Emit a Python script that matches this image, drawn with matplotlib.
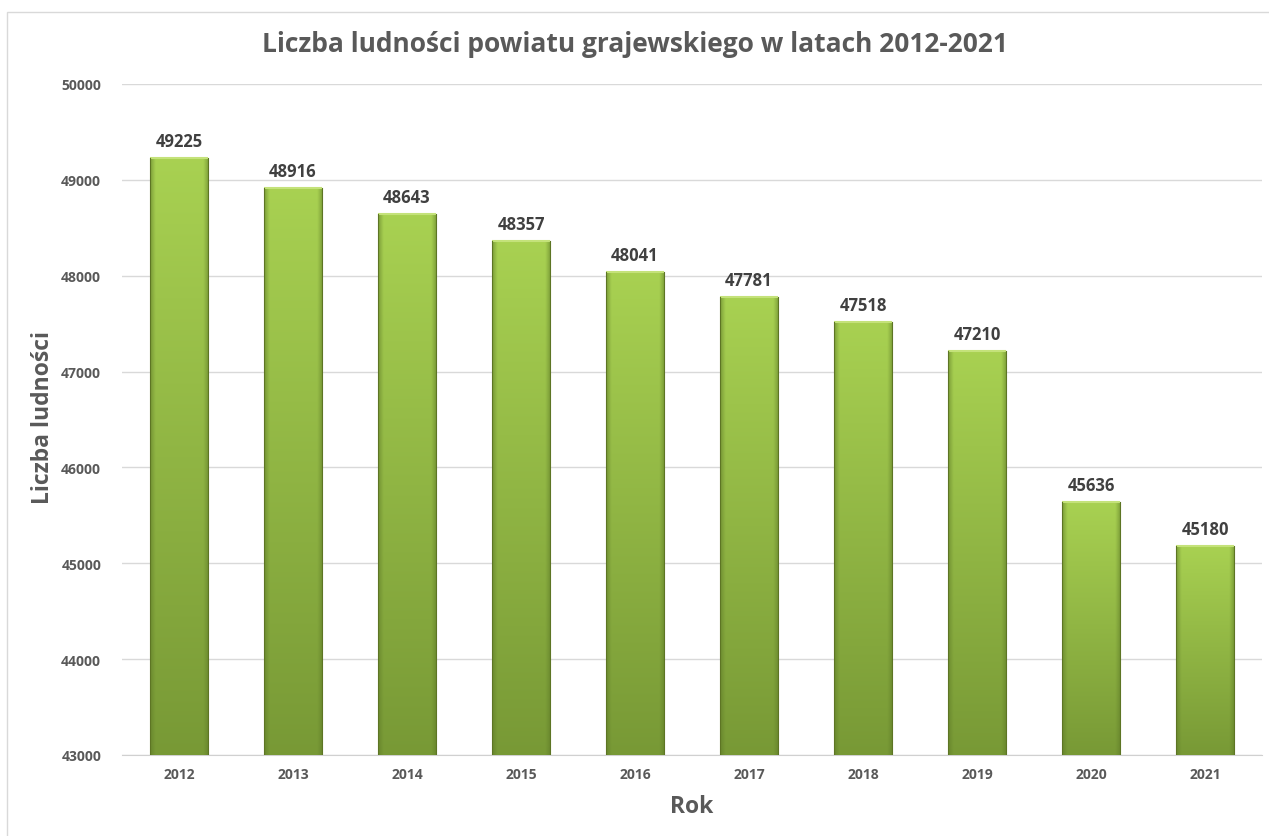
import matplotlib
matplotlib.use("Agg")
import matplotlib.pyplot as plt
import numpy as np

years = ["2012", "2013", "2014", "2015", "2016", "2017", "2018", "2019", "2020", "2021"]
population = [49225, 48916, 48643, 48357, 48041, 47781, 47518, 47210, 45636, 45180]
y_ticks = [43000, 44000, 45000, 46000, 47000, 48000, 49000, 50000]

title = "Liczba ludności powiatu grajewskiego w latach 2012-2021"
ylabel = "Liczba ludności"
xlabel = "Rok"

FONT = ["Open Sans", "DejaVu Sans"]
plt.rcParams["font.family"] = FONT

W, H = 1269, 837
fig = plt.figure(figsize=(W / 100, H / 100), dpi=100)
ax = fig.add_axes([122 / W, (H - 756) / H, (1262 - 122) / W, (756 - 85) / H])

x = np.arange(len(years))
bars = ax.bar(x, population, width=0.51, color="none", edgecolor="none", zorder=3)

ax.set_ylim(43000, 50000)
ax.set_xlim(-0.5, len(years) - 0.5)

# vertical gradient (light top -> darker bottom) with darker side edges
ny, nx = 256, 64
vert = np.linspace(1, 0, ny)[:, None]
xs = np.linspace(-1, 1, nx)[None, :]
edge = np.clip((np.abs(xs) - 0.82) / 0.18, 0, 1)
top = np.array([0.66, 0.82, 0.32])
bot = np.array([0.47, 0.60, 0.21])
dark = np.array([0.36, 0.47, 0.15])
base = bot[None, None, :] + (top - bot)[None, None, :] * vert[:, :, None]
img = base * (1 - 0.55 * edge[:, :, None]) + dark[None, None, :] * 0.55 * edge[:, :, None]
img = np.broadcast_to(img, (ny, nx, 3)).copy()

for b in bars:
    x0 = b.get_x()
    w = b.get_width()
    h = b.get_height()
    y0 = ax.get_ylim()[0]
    im = ax.imshow(img, extent=[x0, x0 + w, y0, h], aspect="auto", zorder=3,
                   interpolation="bilinear", origin="upper")
    im.set_clip_path(b)
    ax.plot([x0, x0 + w], [h, h], color="#c4e27a", lw=1.5, zorder=4, solid_capstyle="butt")
    ax.plot([x0, x0], [y0, h], color="#5d7524", lw=0.8, zorder=4)
    ax.plot([x0 + w, x0 + w], [y0, h], color="#5d7524", lw=0.8, zorder=4)

for xi, v in zip(x, population):
    ax.text(xi, v + 85, str(v), ha="center", va="bottom", fontsize=12,
            fontweight="bold", color="#404040", zorder=5)

ax.set_yticks(y_ticks)
ax.set_yticklabels([str(t) for t in y_ticks], fontsize=10, fontweight="bold", color="#595959")
ax.set_xticks(x)
ax.set_xticklabels(years, fontsize=10, fontweight="bold", color="#595959")
ax.tick_params(axis="both", length=0)
ax.tick_params(axis="y", pad=15)
ax.tick_params(axis="x", pad=9)
ax.grid(axis="y", color="#d9d9d9", lw=1, zorder=0)
ax.set_axisbelow(True)
for s in ["top", "right", "left"]:
    ax.spines[s].set_visible(False)
ax.spines["bottom"].set_color("#d0d0d0")
ax.spines["bottom"].set_zorder(2)

fig.text(635 / W, 1 - 45 / H, title, ha="center", va="center", fontsize=19,
         fontweight="bold", color="#595959")
fig.text(43 / W, 1 - 418 / H, ylabel, ha="center", va="center", rotation=90,
         fontsize=16.5, fontweight="bold", color="#595959")
fig.text(692 / W, 1 - 807 / H, xlabel, ha="center", va="center", fontsize=16.5,
         fontweight="bold", color="#595959")

border = plt.Rectangle((7 / W, -0.01), 1.2, 1 - 13 / H + 0.01, transform=fig.transFigure,
                       fill=False, edgecolor="#d9d9d9", lw=1)
fig.patches.append(border)

fig.savefig("out.png", dpi=100)
